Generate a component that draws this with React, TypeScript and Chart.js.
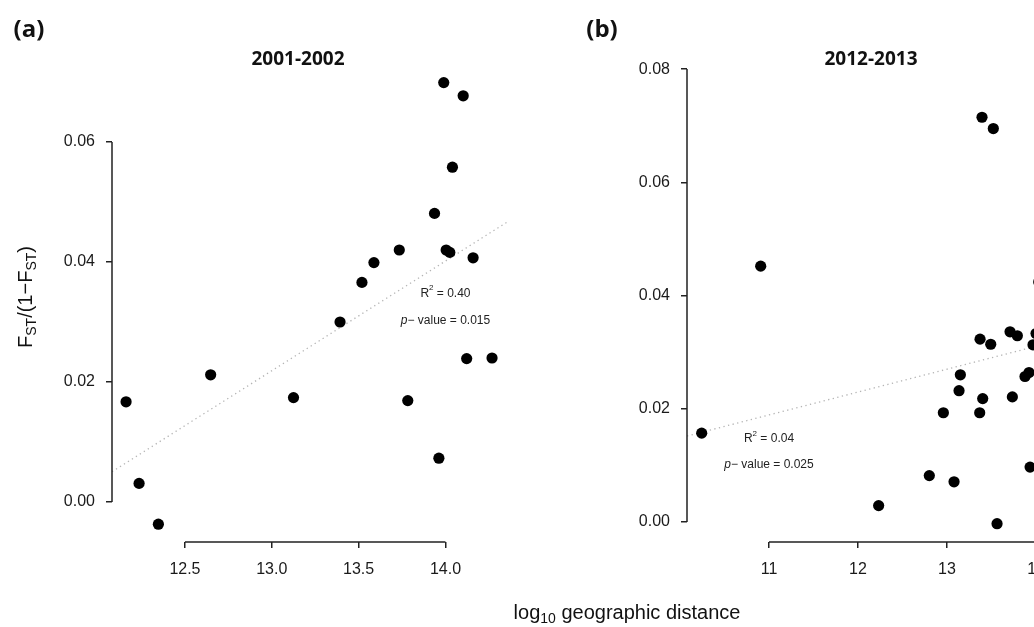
import React, { useEffect, useRef } from "react";
import { Chart, registerables } from "chart.js";

Chart.register(...registerables);

// ---------- Data ----------
const PANEL_A_TITLE = "2001-2002";
const PANEL_A_X = [12.161, 12.236, 12.347, 12.648, 13.125, 13.393, 13.783, 13.962, 14.122, 14.268, 13.519, 13.588, 13.734, 13.937, 13.99, 14.102, 14.04, 14.004, 14.025, 14.159];
const PANEL_A_Y = [0.0167, 0.0031, -0.0037, 0.0212, 0.0174, 0.03, 0.0169, 0.0073, 0.0239, 0.024, 0.0366, 0.0399, 0.042, 0.0481, 0.0699, 0.0677, 0.0558, 0.042, 0.0416, 0.0407];
const PANEL_A_X_TICKS = [12.5, 13.0, 13.5, 14.0];
const PANEL_A_Y_TICKS = [0.0, 0.02, 0.04, 0.06];
const PANEL_A_REG = { intercept: -0.2159, slope: 0.01829 };
const PANEL_A_STATS = { r2: "0.40", p: "0.015" };
const PANEL_A_LABEL_POS = { x: 14.0, yR2: 0.0348, yP: 0.0302 };

const PANEL_B_TITLE = "2012-2013";
const PANEL_B_X = [13.393, 13.52, 10.907, 10.244, 12.232, 12.801, 13.079, 13.562, 12.959, 13.135, 13.15, 13.367, 13.401, 13.371, 13.491, 13.708, 13.79, 13.734, 13.876, 13.921, 13.933, 13.966, 14.0, 14.03];
const PANEL_B_Y = [0.0715, 0.0695, 0.0452, 0.0157, 0.0029, 0.0082, 0.0071, -0.0003, 0.0193, 0.0232, 0.026, 0.0193, 0.0218, 0.0323, 0.0314, 0.0336, 0.0329, 0.0221, 0.0257, 0.0264, 0.0097, 0.0313, 0.0333, 0.0424];
const PANEL_B_X_TICKS = [11, 12, 13, 14];
const PANEL_B_Y_TICKS = [0.0, 0.02, 0.04, 0.06, 0.08];
const PANEL_B_REG = { intercept: -0.02555, slope: 0.004042 };
const PANEL_B_STATS = { r2: "0.04", p: "0.025" };
const PANEL_B_LABEL_POS = { x: 11, yR2: 0.01466, yP: 0.01007 };

// ---------- Styling ----------
const SANS = "'Liberation Sans', Arial, Helvetica, sans-serif";
const BOLD = "'Open Sans', 'Noto Sans', sans-serif";
const INK = "#1a1a1a";

type Panel = {
  xs: number[];
  ys: number[];
  xTicks: number[];
  yTicks: number[];
  xFmt: (v: number) => string;
  reg: { intercept: number; slope: number };
  stats: { r2: string; p: string };
  labelPos: { x: number; yR2: number; yP: number };
  xMin: number;
  xMax: number;
  yMin: number;
  yMax: number;
  yAxisWidth: number;
  padTop: number;
  padRight: number;
};

type Seg = { t: string; font: string; dy?: number };

function drawRich(ctx: CanvasRenderingContext2D, cx: number, cy: number, segs: Seg[]) {
  let total = 0;
  const widths = segs.map((s) => {
    ctx.font = s.font;
    const w = ctx.measureText(s.t).width;
    total += w;
    return w;
  });
  let x = cx - total / 2;
  ctx.textBaseline = "middle";
  ctx.textAlign = "left";
  segs.forEach((s, i) => {
    ctx.font = s.font;
    ctx.fillText(s.t, x, cy + (s.dy || 0));
    x += widths[i];
  });
}

const rAxisPlugin = {
  id: "rAxis",
  afterDraw(chart: any) {
    const { ctx, scales } = chart;
    const xs = scales.x;
    const ys = scales.y;
    ctx.save();
    ctx.strokeStyle = "#222";
    ctx.lineWidth = 1.5;
    ctx.beginPath();
    const xt = xs.ticks;
    ctx.moveTo(xs.getPixelForValue(xt[0].value), xs.top);
    ctx.lineTo(xs.getPixelForValue(xt[xt.length - 1].value), xs.top);
    const yt = ys.ticks;
    ctx.moveTo(ys.right, ys.getPixelForValue(yt[0].value));
    ctx.lineTo(ys.right, ys.getPixelForValue(yt[yt.length - 1].value));
    ctx.stroke();
    ctx.restore();
  },
};

function makeStatsPlugin(p: Panel) {
  return {
    id: "stats",
    afterDatasetsDraw(chart: any) {
      const { ctx, scales } = chart;
      const cx = scales.x.getPixelForValue(p.labelPos.x);
      ctx.save();
      ctx.fillStyle = "#222";
      drawRich(ctx, cx, scales.y.getPixelForValue(p.labelPos.yR2), [
        { t: "R", font: `12px ${SANS}` },
        { t: "2", font: `8px ${SANS}`, dy: -5 },
        { t: " = " + p.stats.r2, font: `12px ${SANS}` },
      ]);
      drawRich(ctx, cx, scales.y.getPixelForValue(p.labelPos.yP), [
        { t: "p", font: `italic 12px ${SANS}` },
        { t: "\u2212 value = " + p.stats.p, font: `12px ${SANS}` },
      ]);
      ctx.restore();
    },
  };
}

function buildConfig(p: Panel): any {
  const points = p.xs.map((x, i) => ({ x, y: p.ys[i] }));
  const regLine = [p.xMin, p.xMax].map((x) => ({ x, y: p.reg.intercept + p.reg.slope * x }));
  const tickFont = { family: SANS, size: 16 };
  const grid = { display: true, drawOnChartArea: false, drawTicks: true, tickLength: 6, color: "#222", lineWidth: 1.5 };
  return {
    type: "scatter",
    data: {
      datasets: [
        {
          data: points,
          backgroundColor: "#000",
          borderColor: "#000",
          borderWidth: 0,
          pointRadius: 5.6,
          pointHoverRadius: 5.6,
          order: 0,
          clip: false,
        },
        {
          data: regLine,
          showLine: true,
          borderColor: "#b4b4b4",
          borderWidth: 1.3,
          borderDash: [1.3, 3.4],
          pointRadius: 0,
          fill: false,
          order: 1,
        },
      ],
    },
    options: {
      responsive: false,
      animation: false,
      events: [],
      layout: { padding: { left: 0, right: p.padRight, top: p.padTop, bottom: 0 } },
      plugins: {
        legend: { display: false },
        tooltip: { enabled: false },
        title: { display: false },
      },
      scales: {
        x: {
          type: "linear",
          min: p.xMin,
          max: p.xMax,
          afterBuildTicks: (s: any) => {
            s.ticks = p.xTicks.map((v) => ({ value: v }));
          },
          afterFit: (s: any) => {
            s.height = 85;
          },
          ticks: {
            callback: (v: any) => p.xFmt(Number(v)),
            font: tickFont,
            color: INK,
            padding: 12,
            maxRotation: 0,
            autoSkip: false,
          },
          grid,
          border: { display: false },
        },
        y: {
          type: "linear",
          min: p.yMin,
          max: p.yMax,
          afterBuildTicks: (s: any) => {
            s.ticks = p.yTicks.map((v) => ({ value: v }));
          },
          afterFit: (s: any) => {
            s.width = p.yAxisWidth;
          },
          ticks: {
            callback: (v: any) => Number(v).toFixed(2),
            font: tickFont,
            color: INK,
            padding: 11,
            autoSkip: false,
          },
          grid,
          border: { display: false },
        },
      },
    },
    plugins: [rAxisPlugin, makeStatsPlugin(p)],
  };
}

const PANEL_A: Panel = {
  xs: PANEL_A_X,
  ys: PANEL_A_Y,
  xTicks: PANEL_A_X_TICKS,
  yTicks: PANEL_A_Y_TICKS,
  xFmt: (v) => v.toFixed(1),
  reg: PANEL_A_REG,
  stats: PANEL_A_STATS,
  labelPos: PANEL_A_LABEL_POS,
  xMin: 12.08,
  xMax: 14.36,
  yMin: -0.00667,
  yMax: 0.07267,
  yAxisWidth: 112,
  padTop: 66,
  padRight: 12,
};

const PANEL_B: Panel = {
  xs: PANEL_B_X,
  ys: PANEL_B_Y,
  xTicks: PANEL_B_X_TICKS,
  yTicks: PANEL_B_Y_TICKS,
  xFmt: (v) => String(v),
  reg: PANEL_B_REG,
  stats: PANEL_B_STATS,
  labelPos: PANEL_B_LABEL_POS,
  xMin: 10.079,
  xMax: 14.55,
  yMin: -0.00353,
  yMax: 0.0832,
  yAxisWidth: 167,
  padTop: 51,
  padRight: 15,
};

const textBase: React.CSSProperties = {
  position: "absolute",
  transform: "translate(-50%, -50%)",
  whiteSpace: "nowrap",
  lineHeight: 1,
  color: "#111",
};

const subStyle: React.CSSProperties = { fontSize: "0.7em", position: "relative", top: "0.3em" };

export default function App() {
  const refA = useRef<HTMLCanvasElement | null>(null);
  const refB = useRef<HTMLCanvasElement | null>(null);

  useEffect(() => {
    const a = new Chart(refA.current as HTMLCanvasElement, buildConfig(PANEL_A));
    const b = new Chart(refB.current as HTMLCanvasElement, buildConfig(PANEL_B));
    return () => {
      a.destroy();
      b.destroy();
    };
  }, []);

  return (
    <div
      style={{
        position: "fixed",
        left: 0,
        top: 0,
        width: 1034,
        height: 627,
        overflow: "hidden",
        background: "#fff",
      }}
    >
      <canvas ref={refA} width={520} height={627} style={{ position: "absolute", left: 0, top: 0, width: 520, height: 627 }} />
      <canvas ref={refB} width={580} height={627} style={{ position: "absolute", left: 520, top: 0, width: 580, height: 627 }} />

      <div style={{ ...textBase, left: 29, top: 28, fontFamily: BOLD, fontWeight: 700, fontSize: 24 }}>(a)</div>
      <div style={{ ...textBase, left: 602, top: 28, fontFamily: BOLD, fontWeight: 700, fontSize: 24 }}>(b)</div>
      <div style={{ ...textBase, left: 298, top: 58, fontFamily: BOLD, fontWeight: 700, fontSize: 19 }}>{PANEL_A_TITLE}</div>
      <div style={{ ...textBase, left: 871, top: 58, fontFamily: BOLD, fontWeight: 700, fontSize: 19 }}>{PANEL_B_TITLE}</div>

      <div
        style={{
          ...textBase,
          left: 25,
          top: 297,
          transform: "translate(-50%, -50%) rotate(-90deg)",
          fontFamily: SANS,
          fontSize: 20,
        }}
      >
        F<span style={subStyle}>ST</span>/(1{"\u2212"}F<span style={subStyle}>ST</span>)
      </div>

      <div style={{ ...textBase, left: 627, top: 612, fontFamily: SANS, fontSize: 20 }}>
        log<span style={subStyle}>10</span> geographic distance
      </div>
    </div>
  );
}
